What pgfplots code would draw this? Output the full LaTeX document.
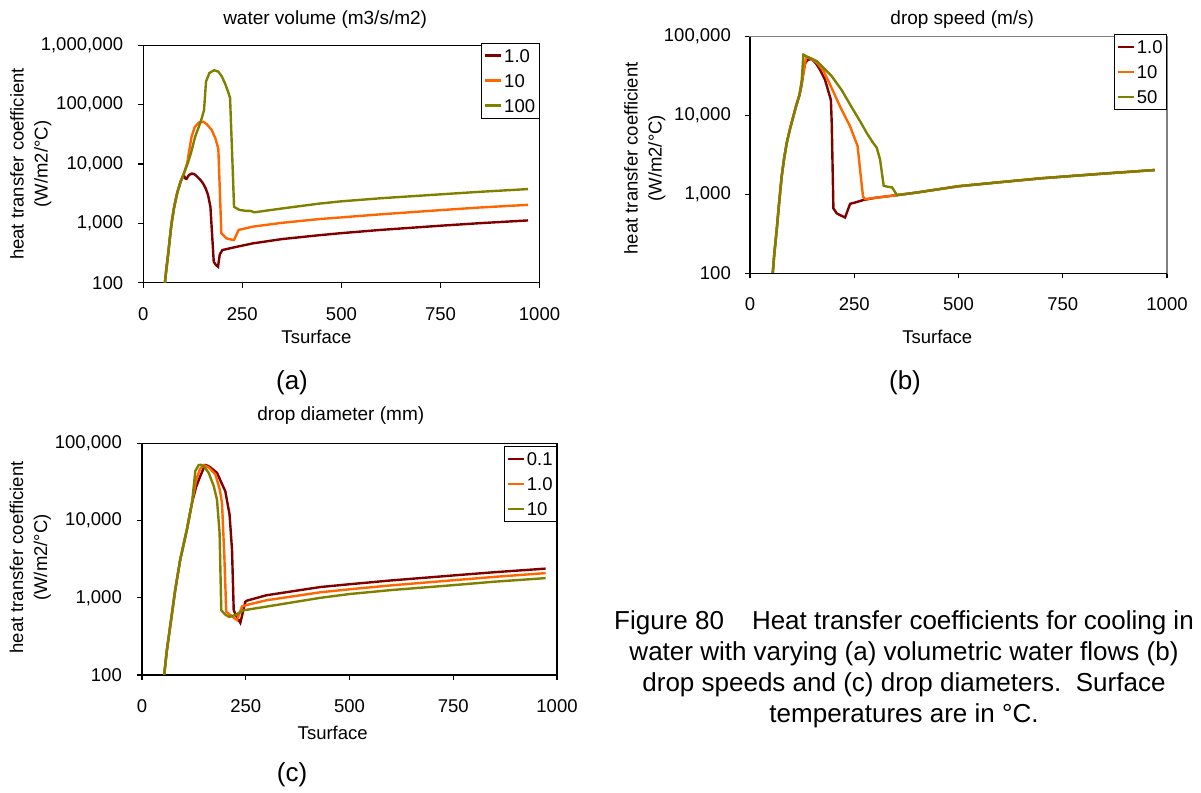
\documentclass[border=0pt]{standalone}
\usepackage{fontspec}
\setmainfont{Liberation Sans}
\usepackage{pgfplots}
\pgfplotsset{compat=1.18}
\definecolor{cred}{RGB}{128,0,0}
\definecolor{corange}{RGB}{255,102,0}
\definecolor{colive}{RGB}{128,128,0}
\newcommand{\sm}{\fontsize{18.5}{24}\selectfont}
\newcommand{\ttl}{\fontsize{19}{24}\selectfont}
\newcommand{\bg}{\fontsize{26}{31}\selectfont}

\pgfplotsset{
  htc/.style={
    scale only axis, xmin=0, xmax=1000, ymin=100,
    xtick={0,250,500,750,1000}, xticklabels={0,250,500,750,1000},
    tick pos=left, tick align=outside, major tick length=5pt,
    axis line style={line width=1.2pt},
    tick style={line width=1.2pt, black},
    ticklabel style={font=\sm},
    xticklabel style={anchor=center, yshift=-26pt},
    yticklabel style={anchor=east, inner sep=0pt, xshift=-15pt},
    label style={font=\sm},
    every axis title shift=0pt,
    title style={font=\ttl, anchor=center},
    ylabel style={align=center, anchor=center},
    xlabel style={anchor=center},
    legend style={draw=black, line width=0.8pt, font=\sm, anchor=north east,
      inner xsep=2pt, inner ysep=0pt,
      nodes={inner xsep=2pt, inner ysep=0pt, text height=13.2pt, text depth=0pt, minimum height=25pt}},
    legend cell align=left,
    legend image code/.code={\draw[##1] (0pt,0pt) -- (16pt,0pt);},
    every axis plot/.append style={line width=2.4pt},
    ylabel={heat transfer coefficient\\(W/m2/°C)},
    xlabel={Tsurface},
  }
}

\begin{document}
\begin{tikzpicture}[x=1pt,y=1pt]
\path[use as bounding box] (0,0) rectangle (1201,792);

% (a) water volume
\begin{axis}[ymode=log, yminorticks=false, htc,
  at={(143.3pt,509.3pt)}, anchor=south west,
  width=396.2pt, height=237.4pt, ymax=1000000,
  ytick={100,1000,10000,100000,1000000},
  yticklabels={{100},{1,000},{10,000},{100,000},{1,000,000}},
  title={water volume (m3/s/m2)},
  title style={at={(axis description cs:0.459,1.1066)}},
  xlabel style={at={(axis description cs:0.437,-0.230)}},
  ylabel style={at={(axis description cs:-0.284,0.5)}},
  legend style={at={(axis description cs:1,1.011)}},
]
\addplot[cred] coordinates {
(54.6,100) (58,165) (63,313) (67,560) (71.3,1000) (78,1900) (85.5,3240) (94,5000)
(102,6600) (106,5700) (109,5600) (115,6500) (122,6900) (128,6800) (134,6300)
(143,5500) (151,4700) (158,3800) (163.5,3000) (169.4,1900) (177.8,226) (183,200)
(188.6,186) (193,300) (199.6,355) (230,395) (276.7,460) (350,543) (444,631)
(500,684) (600,776) (750,912) (850,1007) (971,1120)};
\addplot[corange] coordinates {
(54.6,100) (58,165) (63,313) (67,560) (71.3,1000) (78,1900) (85.5,3240) (94,5000)
(102.4,6900) (111,10500) (116,17000) (122,29000) (130,42000) (140,50000)
(151.5,51500) (160,47000) (172.7,37500) (182,27000) (189.4,18000) (197,680)
(209.6,560) (226,525) (229,525) (240.7,775) (276.7,880) (350,1020) (444,1180)
(500,1260) (600,1420) (750,1670) (850,1850) (971,2050)};
\addplot[colive] coordinates {
(54.6,100) (58,165) (63,313) (67,560) (71.3,1000) (78,1900) (85.5,3240) (94,5000)
(102.4,6900) (111.6,10000) (120,15000) (131,29000) (140,42000) (147.5,59000)
(153.3,81000) (158.3,245000) (166.7,340000) (178.5,380000) (189.5,360000)
(198,300000) (206,230000) (214,165000) (219,129000) (225.7,8000) (229,1900)
(243,1680) (260,1620) (270,1620) (281,1535) (300,1600) (350,1780) (444,2150)
(500,2350) (600,2650) (750,3080) (850,3400) (971,3780)};
\legend{1.0,10,100}
\end{axis}

% (b) drop speed
\begin{axis}[ymode=log, yminorticks=false, htc,
  at={(750pt,518.7pt)}, anchor=south west,
  width=417pt, height=236.6pt, ymax=100000,
  ytick={100,1000,10000,100000},
  yticklabels={{100},{1,000},{10,000},{100,000}},
  yticklabel style={xshift=1pt},
  axis line style={gray},
  title={drop speed (m/s)},
  title style={at={(axis description cs:0.509,1.072)}},
  xlabel style={at={(axis description cs:0.449,-0.2705)}},
  ylabel style={at={(axis description cs:-0.252,0.486)}},
  legend style={at={(axis description cs:1,1.01)}},
  after end axis/.code={\draw[black,line width=1.2pt] (rel axis cs:0,1) -- (rel axis cs:0,0) -- (rel axis cs:1,0);},
]
\addplot[cred] coordinates {
(54.5,100) (58,170) (64,355) (70,800) (76,1700) (82,2900) (88,4470) (96,6800)
(104,9800) (111,13500) (118.6,18200) (124,25000) (128,35000) (132,45500)
(137,50000) (142,51500) (148,52000) (158,46000) (168,38000) (180,28300)
(188,20200) (194,15800) (196,8000) (200,665) (208,575) (218,540) (228,510)
(240,760) (252,790) (272,850) (300,905) (352.6,980) (400,1057) (500,1270)
(600,1430) (697,1600) (750,1680) (850,1840) (971,2040)};
\addplot[corange] coordinates {
(54.5,100) (58,170) (64,355) (70,800) (76,1700) (82,2900) (88,4470) (96,6800)
(104,9800) (111,13500) (118.6,18200) (124,26000) (130,40000) (134.6,55000)
(145,53000) (160,47000) (176,37000) (190,26000) (200,20000) (216,13000)
(240,7300) (258,4100) (264,2050) (271,940) (276,870) (300,905) (352.6,980)
(400,1057) (500,1270) (600,1430) (697,1600) (750,1680) (850,1840) (971,2040)};
\addplot[colive] coordinates {
(54.5,100) (58,170) (64,355) (70,800) (76,1700) (82,2900) (88,4470) (96,6800)
(104,9800) (111,13500) (118.6,18200) (124,28000) (128,59000) (140,55000)
(160,49000) (180,38500) (195,32000) (208,25700) (220,21000) (230,17000)
(248,11700) (265,8300) (280,6000) (294,4600) (304,3900) (312,2750) (320.5,1290)
(330,1250) (340.5,1230) (352.6,980) (400,1057) (500,1270) (600,1430) (697,1600)
(750,1680) (850,1840) (971,2040)};
\legend{1.0,10,50}
\end{axis}

% (c) drop diameter
\begin{axis}[ymode=log, yminorticks=false, htc,
  at={(142pt,117pt)}, anchor=south west,
  width=415pt, height=231.5pt, ymax=100000,
  ytick={100,1000,10000,100000},
  yticklabels={{100},{1,000},{10,000},{100,000}},
  title={drop diameter (mm)},
  title style={at={(axis description cs:0.479,1.119)}},
  xlabel style={at={(axis description cs:0.4595,-0.252)}},
  ylabel style={at={(axis description cs:-0.269,0.5076)}},
  legend style={at={(axis description cs:1,0.989)}},
]
\addplot[cred] coordinates {
(53.4,100) (60,210) (68,430) (80,1260) (92,3100) (108,7600) (120.5,17000)
(130,27000) (140.6,38000) (148,47000) (152.6,52500) (158,51500) (164.7,49000)
(180.7,41700) (200.8,24000) (211,12000) (216.9,4200) (221,690) (229,560)
(237,475) (249,890) (253,920) (300,1080) (429.7,1380) (500,1500) (600,1680)
(750,1950) (850,2150) (972.5,2390)};
\addplot[corange] coordinates {
(53.4,100) (60,210) (68,430) (80,1260) (92,3100) (108,7600) (120.5,17000)
(130,33000) (140,47000) (148.6,52500) (160.6,49000) (176.7,40000) (187,25700)
(192.8,17000) (198.4,3470) (203,660) (216.9,575) (228.9,515) (241,775)
(253,810) (300,930) (429.7,1180) (500,1290) (600,1450) (750,1690) (850,1870)
(972.5,2090)};
\addplot[colive] coordinates {
(53.4,100) (60,210) (68,430) (80,1260) (92,3100) (108,7600) (120.5,17000)
(128.5,44000) (136.5,52500) (142,53000) (150,50000) (160.6,41700) (172.7,28300)
(180.7,18700) (187,6900) (191,690) (200,610) (210,565) (225,600) (245,690)
(300,770) (429.7,1000) (500,1120) (600,1260) (750,1460) (850,1620) (972.5,1800)};
\legend{0.1,1.0,10}
\end{axis}

\node[font=\bg] at (292,409.5) {(a)};
\node[font=\bg] at (905,409.5) {(b)};
\node[font=\bg] at (292,17) {(c)};
\node[font=\bg, align=center] at (904,123) {Figure 80\hspace{28pt}Heat transfer coefficients for cooling in\\
water with varying (a) volumetric water flows (b)\\
drop speeds and (c) drop diameters.\ \ Surface\\
temperatures are in °C.};
\end{tikzpicture}
\end{document}
